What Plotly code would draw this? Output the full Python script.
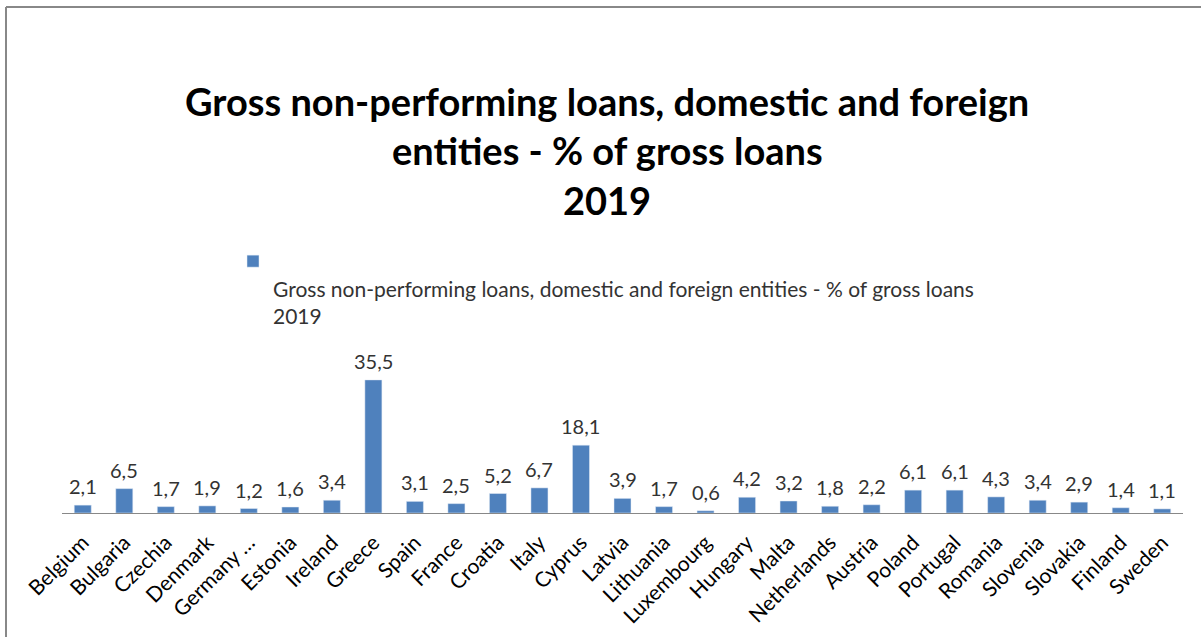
import plotly.graph_objects as go

countries = ["Belgium", "Bulgaria", "Czechia", "Denmark", "Germany …", "Estonia", "Ireland",
             "Greece", "Spain", "France", "Croatia", "Italy", "Cyprus", "Latvia", "Lithuania",
             "Luxembourg", "Hungary", "Malta", "Netherlands", "Austria", "Poland", "Portugal",
             "Romania", "Slovenia", "Slovakia", "Finland", "Sweden"]
npl_2019 = [2.1, 6.5, 1.7, 1.9, 1.2, 1.6, 3.4, 35.5, 3.1, 2.5, 5.2, 6.7, 18.1, 3.9, 1.7,
            0.6, 4.2, 3.2, 1.8, 2.2, 6.1, 6.1, 4.3, 3.4, 2.9, 1.4, 1.1]
title_lines = ["Gross non-performing loans, domestic and foreign",
               "entities - % of gross loans", "2019"]
series_name = "Gross non-performing loans, domestic and foreign entities - % of gross loans<br>2019"

W, H = 1201, 637
ML, MR, MT, MB = 62, 18, 363, 124
FONT = "Lato"
pw, ph = W - ML - MR, H - MT - MB


def px_to_paper_x(px):
    return (px - ML) / pw


def px_to_paper_y(py):
    return (H - MB - py) / ph


fig = go.Figure()
fig.add_trace(go.Bar(
    x=countries, y=npl_2019, name="<br>" + series_name,
    marker=dict(color="#4F81BD"), showlegend=True,
))

annotations = []
for c, v in zip(countries, npl_2019):
    annotations.append(dict(
        x=c, y=v, xref="x", yref="y", text=f"{v:.1f}".replace(".", ","),
        showarrow=False, yanchor="bottom", yshift=5,
        font=dict(family=FONT, size=20, color="#333333"),
    ))
title_y = [101, 150, 200]
for t, yy in zip(title_lines, title_y):
    annotations.append(dict(
        x=px_to_paper_x(607), y=px_to_paper_y(yy), xref="paper", yref="paper",
        text=f"<b>{t}</b>", showarrow=False, xanchor="center", yanchor="middle",
        font=dict(family=FONT, size=38, color="#000000"),
    ))

shapes = [
    dict(type="line", xref="paper", yref="paper",
         x0=px_to_paper_x(6), x1=px_to_paper_x(6),
         y0=px_to_paper_y(7), y1=px_to_paper_y(H + 5),
         line=dict(color="#888888", width=2)),
    dict(type="line", xref="paper", yref="paper",
         x0=px_to_paper_x(6), x1=px_to_paper_x(W + 5),
         y0=px_to_paper_y(7), y1=px_to_paper_y(7),
         line=dict(color="#888888", width=2)),
]

fig.update_layout(
    width=W, height=H,
    margin=dict(l=ML, r=MR, t=MT, b=MB, pad=0, autoexpand=False),
    paper_bgcolor="white", plot_bgcolor="white",
    bargap=0.59,
    font=dict(family=FONT, size=20, color="#333333"),
    showlegend=True,
    legend=dict(
        x=233 / W, y=1 - 241 / H, xref="container", yref="container",
        xanchor="left", yanchor="top", valign="top",
        font=dict(family=FONT, size=21, color="#333333"),
        bgcolor="rgba(0,0,0,0)",
    ),
    xaxis=dict(
        showline=True, linecolor="#888888", linewidth=1,
        showgrid=False, ticks="", tickangle=-45, ticklabelstandoff=8,
        tickfont=dict(family=FONT, size=21, color="#000000"),
    ),
    yaxis=dict(range=[0, 40], visible=False, showgrid=False),
    annotations=annotations,
    shapes=shapes,
)

fig.write_html("out.html")
